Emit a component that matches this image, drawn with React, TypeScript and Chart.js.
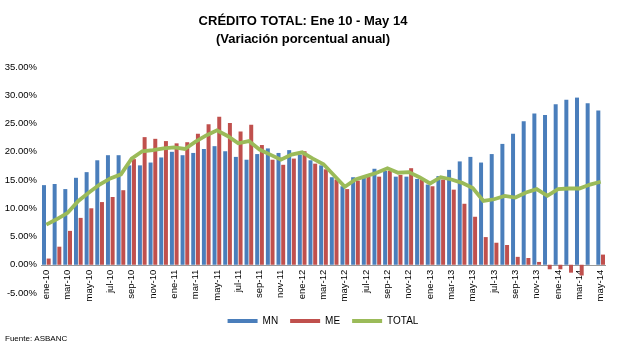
import React, { useEffect, useRef } from 'react';
import { Chart, registerables } from 'chart.js';

Chart.register(...registerables);

const FONT = '"Liberation Sans", Arial, sans-serif';

const labels = [
  'ene-10', 'feb-10', 'mar-10', 'abr-10', 'may-10', 'jun-10', 'jul-10', 'ago-10', 'sep-10', 'oct-10', 'nov-10', 'dic-10',
  'ene-11', 'feb-11', 'mar-11', 'abr-11', 'may-11', 'jun-11', 'jul-11', 'ago-11', 'sep-11', 'oct-11', 'nov-11', 'dic-11',
  'ene-12', 'feb-12', 'mar-12', 'abr-12', 'may-12', 'jun-12', 'jul-12', 'ago-12', 'sep-12', 'oct-12', 'nov-12', 'dic-12',
  'ene-13', 'feb-13', 'mar-13', 'abr-13', 'may-13', 'jun-13', 'jul-13', 'ago-13', 'sep-13', 'oct-13', 'nov-13', 'dic-13',
  'ene-14', 'feb-14', 'mar-14', 'abr-14', 'may-14',
];

const mn = [
  14.1, 14.3, 13.4, 15.4, 16.4, 18.5, 19.4, 19.4, 17.6, 17.6, 18.1, 19.0,
  20.0, 19.4, 19.8, 20.5, 21.0, 20.1, 19.1, 18.6, 19.6, 20.6, 19.8, 20.3,
  19.5, 18.5, 17.6, 15.5, 13.9, 15.5, 15.5, 17.0, 16.6, 15.6, 15.6, 15.2,
  14.2, 15.7, 16.8, 18.3, 19.1, 18.1, 19.6, 21.4, 23.2, 25.4, 26.8, 26.5,
  28.4, 29.2, 29.6, 28.6, 27.3,
];

const me = [
  1.1, 3.2, 6.0, 8.3, 10.0, 11.1, 12.0, 13.2, 18.7, 22.6, 22.3, 21.9,
  21.5, 21.7, 23.2, 24.9, 26.2, 25.1, 23.6, 24.8, 21.2, 18.6, 17.7, 18.8,
  20.1, 17.9, 16.9, 15.1, 13.4, 14.9, 15.6, 15.6, 16.6, 15.9, 17.1, 15.1,
  13.9, 15.1, 13.3, 10.8, 8.5, 4.9, 3.9, 3.5, 1.4, 1.2, 0.5, -0.8,
  -0.8, -1.4, -1.9, 0.0, 1.8,
];

const total = [
  7.1, 8.1, 9.2, 11.3, 12.8, 14.2, 15.3, 16.0, 18.8, 20.1, 20.3, 20.6,
  20.8, 20.5, 21.8, 22.9, 23.8, 22.8, 21.5, 21.9, 20.4, 19.5, 18.6, 19.5,
  19.9, 18.8, 17.8, 15.8, 13.8, 15.1, 15.7, 16.3, 17.1, 16.3, 16.4, 15.5,
  14.4, 15.5, 15.1, 14.5, 13.6, 11.3, 11.6, 12.2, 11.9, 12.8, 13.4, 12.2,
  13.4, 13.5, 13.5, 14.2, 14.7,
];

const seriesNames = ['MN', 'ME', 'TOTAL'];
const colors = ['#4A7EBB', '#C0504D', '#9BBB59'];
const sourceNote = 'Fuente: ASBANC';

const zeroAxisLabels = {
  id: 'zeroAxisLabels',
  afterLayout(chart: any) {
    const l = chart.legend;
    if (l) {
      l.left += 20;
      l.right += 20;
    }
  },
  beforeDatasetsDraw(chart: any) {
    const { ctx, chartArea } = chart;
    const xs = chart.scales.x;
    const ys = chart.scales.y;
    const y0 = ys.getPixelForValue(0);
    ctx.save();
    ctx.strokeStyle = '#9a9a9a';
    ctx.lineWidth = 1;
    ctx.beginPath();
    ctx.moveTo(chartArea.left, Math.round(y0) + 0.5);
    ctx.lineTo(chartArea.right, Math.round(y0) + 0.5);
    ctx.stroke();
    ctx.font = `9.5px ${FONT}`;
    ctx.fillStyle = '#000';
    ctx.textAlign = 'right';
    ctx.textBaseline = 'middle';
    labels.forEach((lab, i) => {
      if (i % 2 !== 0) return;
      const px = xs.getPixelForValue(i);
      ctx.save();
      ctx.translate(px, y0 + 5);
      ctx.rotate(-Math.PI / 2);
      ctx.fillText(lab, 0, 0);
      ctx.restore();
    });
    ctx.restore();
  },
  afterDraw(chart: any) {
    const { ctx, height } = chart;
    ctx.save();
    ctx.font = `8px ${FONT}`;
    ctx.fillStyle = '#000';
    ctx.textAlign = 'left';
    ctx.textBaseline = 'middle';
    ctx.fillText(sourceNote, 5, height - 8);
    ctx.restore();
  },
};

export default function App() {
  const ref = useRef<HTMLCanvasElement>(null);

  useEffect(() => {
    document.body.style.margin = '0';
    if (!ref.current) return;
    const chart = new Chart(ref.current, {
      type: 'bar',
      data: {
        labels,
        datasets: [
          {
            type: 'bar',
            label: seriesNames[0],
            data: mn,
            backgroundColor: colors[0],
            borderWidth: 0,
            categoryPercentage: 0.88,
            barPercentage: 0.85,
            order: 2,
          },
          {
            type: 'bar',
            label: seriesNames[1],
            data: me,
            backgroundColor: colors[1],
            borderWidth: 0,
            categoryPercentage: 0.88,
            barPercentage: 0.85,
            order: 2,
          },
          {
            type: 'line',
            label: seriesNames[2],
            data: total,
            borderColor: colors[2],
            backgroundColor: colors[2],
            borderWidth: 3.8,
            pointRadius: 0,
            tension: 0,
            order: 1,
          } as any,
        ],
      },
      options: {
        responsive: false,
        animation: false,
        layout: { padding: { left: 0, right: 13, top: 0, bottom: 11 } },
        scales: {
          x: {
            grid: { display: false },
            ticks: { display: false },
            border: { display: false },
            afterFit: (s: any) => {
              s.height = 11;
            },
          },
          y: {
            min: -5,
            max: 35,
            ticks: {
              stepSize: 5,
              callback: (v: any) => Number(v).toFixed(2) + '%',
              font: { size: 9.5, family: FONT },
              color: '#000',
              padding: 4,
            },
            grid: { display: false, drawTicks: false },
            border: { display: false },
            afterFit: (s: any) => {
              s.width = 41;
            },
          },
        },
        plugins: {
          title: {
            display: true,
            text: ['CRÉDITO TOTAL: Ene 10 - May 14', '(Variación porcentual anual)'],
            font: { size: 13, weight: 'bold', family: FONT, lineHeight: 1.35 },
            color: '#000',
            padding: { top: 13, bottom: 19 },
          },
          legend: {
            position: 'bottom',
            labels: {
              boxWidth: 30,
              boxHeight: 4,
              padding: 12,
              font: { size: 10, family: FONT },
              color: '#000',
              sort: (a: any, b: any) => a.datasetIndex - b.datasetIndex,
              generateLabels: (c: any) =>
                Chart.defaults.plugins.legend.labels.generateLabels(c).map((l: any) => ({
                  ...l,
                  lineWidth: 0,
                  fillStyle: colors[l.datasetIndex],
                })),
            },
          },
          tooltip: { enabled: false },
        },
      },
      plugins: [zeroAxisLabels],
    });
    return () => chart.destroy();
  }, []);

  return (
    <div style={{ width: 619, height: 347, position: 'relative' }}>
      <canvas ref={ref} width={619} height={347} />
    </div>
  );
}
